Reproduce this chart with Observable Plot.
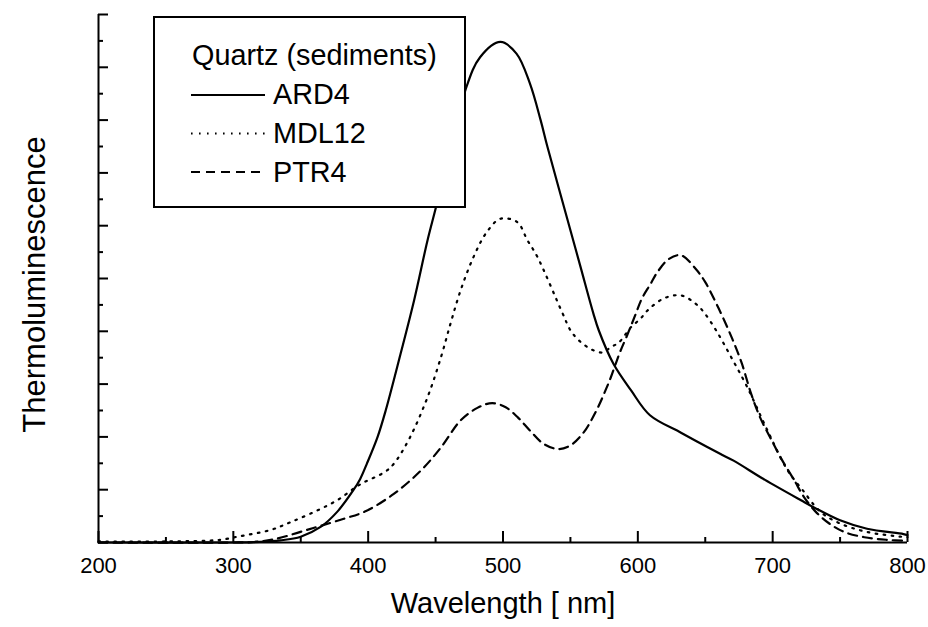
<!DOCTYPE html>
<html><head><meta charset="utf-8">
<script src="https://cdn.jsdelivr.net/npm/d3@7"></script>
<script src="https://cdn.jsdelivr.net/npm/@observablehq/plot@0.6"></script>
<style>body{margin:0;background:#fff;} #chart svg{display:block;}</style>
</head><body><div id="chart"></div>
<script>
// ---- data ----
const seriesNames = ["ARD4", "MDL12", "PTR4"];
const legendTitle = "Quartz (sediments)";
const xLabel = "Wavelength [ nm]";
const yLabel = "Thermoluminescence";

const ard4Wl  = [200, 300, 320, 335, 350, 365, 377, 389, 394, 399, 407, 413, 424, 434, 444, 450, 472, 483, 498, 510, 520, 528, 533, 548, 557.5, 567, 571, 582, 595, 609, 632, 647, 661, 671, 694, 721, 731, 750, 770, 797, 800];
const ard4Val = [0, 0, 0.01, 0.04, 0.11, 0.30, 0.58, 0.99, 1.2, 1.49, 2.0, 2.5, 3.57, 4.58, 5.72, 6.32, 8.56, 9.19, 9.48, 9.26, 8.69, 7.99, 7.49, 6.10, 5.22, 4.34, 4.02, 3.38, 2.88, 2.41, 2.08, 1.87, 1.68, 1.55, 1.19, 0.80, 0.66, 0.42, 0.26, 0.16, 0.14];

const mdl12Wl  = [200, 250, 290, 303, 328, 342, 360, 377, 394, 412, 419, 431, 444, 454, 461, 468.5, 478, 488, 498, 510.5, 518, 525.5, 544, 550, 555, 561, 567, 574, 580, 586, 595, 602, 607, 619, 632, 643, 649, 658, 669, 681, 696, 711, 722, 735.5, 750, 770, 795, 800];
const mdl12Val = [0.02, 0.02, 0.05, 0.11, 0.24, 0.38, 0.58, 0.80, 1.1, 1.33, 1.49, 1.99, 2.75, 3.51, 4.14, 4.77, 5.40, 5.88, 6.13, 6.07, 5.73, 5.41, 4.35, 4.02, 3.86, 3.73, 3.64, 3.60, 3.70, 3.79, 4.08, 4.24, 4.39, 4.62, 4.68, 4.52, 4.36, 4.02, 3.52, 2.95, 2.13, 1.37, 1.0, 0.58, 0.36, 0.20, 0.11, 0.10];

const ptr4Wl  = [200, 300, 315, 330, 360, 382, 398, 419, 439, 454, 468.5, 481, 492, 502, 511, 520, 530, 541, 550, 560, 566, 571, 576, 580, 583.5, 587, 592, 598, 603, 609.5, 614.5, 623, 632, 643, 650, 660, 670, 677, 684, 691, 700, 707, 716, 723, 732, 742, 753, 768, 785, 800];
const ptr4Val = [0, 0, 0.01, 0.06, 0.28, 0.45, 0.59, 0.92, 1.36, 1.80, 2.31, 2.55, 2.64, 2.56, 2.37, 2.12, 1.87, 1.77, 1.84, 2.09, 2.34, 2.59, 2.88, 3.13, 3.38, 3.62, 3.92, 4.30, 4.62, 4.90, 5.12, 5.37, 5.44, 5.18, 4.93, 4.43, 3.86, 3.40, 2.82, 2.35, 1.90, 1.56, 1.18, 0.87, 0.58, 0.36, 0.20, 0.10, 0.05, 0.03];

const xMajorTicks = [200, 300, 400, 500, 600, 700, 800];
const xMinorTicks = [250, 350, 450, 550, 650, 750];
const yMajorTicks = [0, 1, 2, 3, 4, 5, 6, 7, 8, 9, 10];
const yMinorTicks = [0.5, 1.5, 2.5, 3.5, 4.5, 5.5, 6.5, 7.5, 8.5, 9.5];

// ---- layout ----
const W = 928, H = 627, mL = 98, mR = 21, mT = 14, mB = 85;
const plotW = W - mL - mR, plotH = H - mT - mB;
const FONT = "'Liberation Sans', Arial, Helvetica, sans-serif";
const styles = {
  ARD4:  {dash: null,      width: 2.2},
  MDL12: {dash: "1.6,6.4", width: 2.2},
  PTR4:  {dash: "9,6",     width: 2.2}
};

const toRows = (name, wl, val) => wl.map((w, i) => ({series: name, wl: w, v: val[i]}));
const rows = {
  ARD4: toRows("ARD4", ard4Wl, ard4Val),
  MDL12: toRows("MDL12", mdl12Wl, mdl12Val),
  PTR4: toRows("PTR4", ptr4Wl, ptr4Val)
};

const plot = Plot.plot({
  width: W, height: H,
  marginLeft: mL, marginRight: mR, marginTop: mT, marginBottom: mB,
  x: {domain: [200, 800], axis: null},
  y: {domain: [0, 10], axis: null},
  style: {fontFamily: FONT, background: "#fff", color: "#000"},
  marks: [
    ...seriesNames.map(n => Plot.line(rows[n], {
      x: "wl", y: "v", stroke: "#000", strokeWidth: styles[n].width,
      strokeDasharray: styles[n].dash, curve: "catmull-rom"
    })),
    Plot.ruleX([200], {stroke: "#000", strokeWidth: 2}),
    Plot.ruleY([0], {stroke: "#000", strokeWidth: 2}),
    Plot.tickX(xMajorTicks, {x: d => d, insetTop: plotH - 11, stroke: "#000", strokeWidth: 2}),
    Plot.tickX(xMinorTicks, {x: d => d, insetTop: plotH - 5, stroke: "#000", strokeWidth: 2}),
    Plot.tickY(yMajorTicks, {y: d => d, insetRight: plotW - 10, stroke: "#000", strokeWidth: 2}),
    Plot.tickY(yMinorTicks, {y: d => d, insetRight: plotW - 5, stroke: "#000", strokeWidth: 2}),
    Plot.text(xMajorTicks, {x: d => d, y: 0, dy: 23, text: d => String(d), fontSize: 22, fill: "#000"}),
    Plot.text([xLabel], {frameAnchor: "bottom", dy: 70, text: d => d, fontSize: 29, fill: "#000", textAnchor: "middle"}),
    Plot.text([yLabel], {frameAnchor: "left", dx: -63, dy: 6, rotate: -90, text: d => d, fontSize: 31, fill: "#000", textAnchor: "middle"})
  ]
});
document.getElementById("chart").appendChild(plot);

// ---- legend box (drawn over the curves, as in the reference) ----
const svg = d3.select(plot);
const lg = svg.append("g").attr("font-family", FONT).attr("fill", "#000").attr("text-anchor", "start");
lg.append("rect").attr("x", 154).attr("y", 17).attr("width", 311).attr("height", 190)
  .attr("fill", "#fff").attr("stroke", "#000").attr("stroke-width", 2);
lg.append("text").attr("x", 192).attr("y", 65).attr("font-size", 28.8).attr("text-anchor", "start").text(legendTitle);
seriesNames.forEach((n, i) => {
  const yLine = 95 + i * 38.5, yText = 104 + i * 39;
  lg.append("line").attr("x1", 191).attr("x2", 265).attr("y1", yLine).attr("y2", yLine)
    .attr("stroke", "#000").attr("stroke-width", styles[n].width)
    .attr("stroke-dasharray", styles[n].dash);
  lg.append("text").attr("x", 273).attr("y", yText).attr("font-size", 28.8).attr("text-anchor", "start").text(n);
});
</script>
</body></html>
